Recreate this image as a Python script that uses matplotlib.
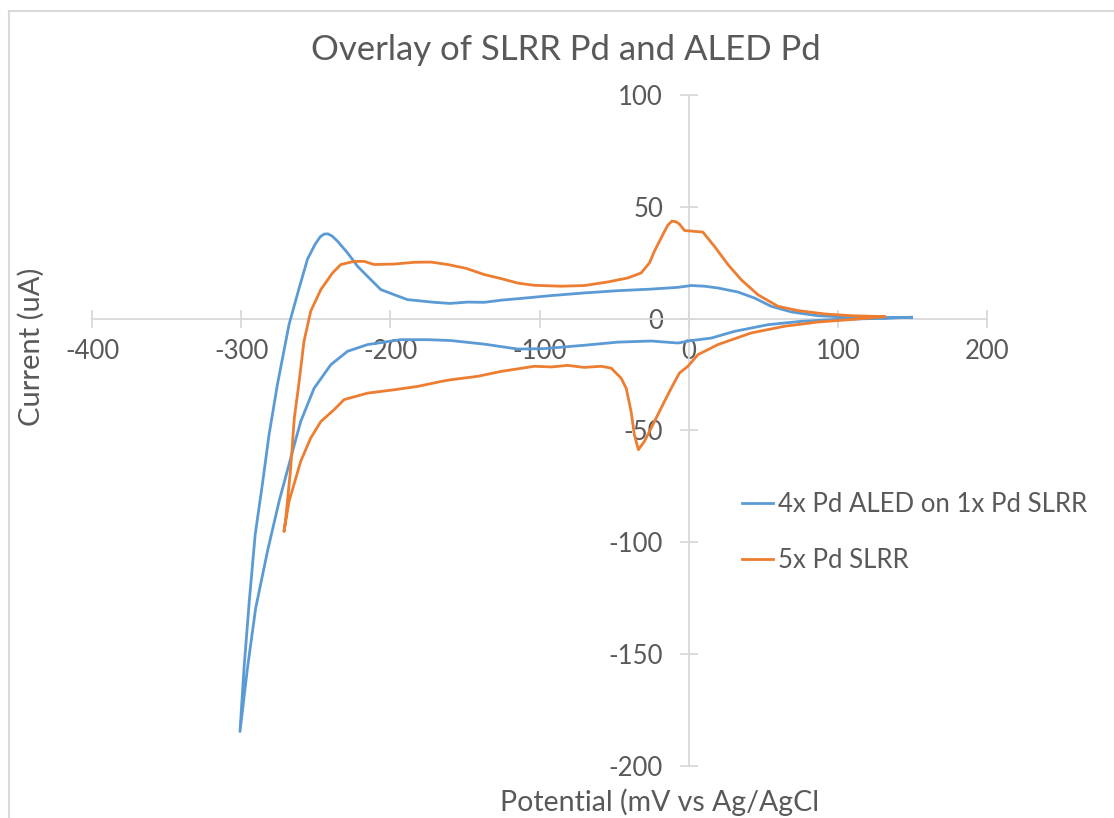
import matplotlib
matplotlib.use("Agg")
import matplotlib.pyplot as plt
from matplotlib.lines import Line2D

plt.rcParams['font.family'] = ['Lato', 'DejaVu Sans']
plt.rcParams['axes.unicode_minus'] = False

# 4x Pd ALED on 1x Pd SLRR: cathodic sweep from +150 down to -300, then back
aled_potential = [149.3, 120.3, 97.9, 75.5, 53.2, 30.7, 15.1, 1.7, -7.2, -25.2, -47.5, -69.9,
                  -96.8, -114.6, -137.0, -159.4, -175.0, -193.0, -215.3, -228.7, -239.9, -251.1,
                  -260.1, -265.6, -274.6, -282.4, -290.3, -295.8, -300.8,
                  -298.1, -294.6, -290.6, -285.8, -281.3, -275.7, -267.9, -262.3, -255.6, -250.5,
                  -247.0, -244.4, -241.8, -239.0, -235.4, -228.7, -222.0, -215.3, -206.4, -197.4,
                  -188.5, -170.6, -160.0, -148.2, -137.0, -125.0, -114.6, -92.3, -69.9, -47.5,
                  -25.2, -7.2, 1.7, 10.6, 19.6, 33.0, 44.2, 55.4, 68.8, 86.7, 109.1, 131.4, 149.3]
aled_current = [0.6, 0.0, -0.4, -1.2, -2.7, -5.7, -8.7, -9.8, -10.9, -10.0, -10.5, -11.9,
                -13.4, -13.6, -11.4, -9.8, -9.4, -9.4, -11.6, -14.6, -20.6, -31.1,
                -46.0, -59.4, -81.7, -104.1, -129.5, -156.3, -184.6,
                -156.3, -126.5, -96.5, -74.1, -51.8, -29.4, -2.6, 10.9, 26.5, 33.2,
                36.6, 37.8, 37.9, 36.9, 34.6, 29.4, 23.4, 18.9, 13.0, 10.7,
                8.5, 7.3, 6.8, 7.4, 7.3, 8.3, 8.9, 10.3, 11.5, 12.5,
                13.2, 14.0, 14.8, 14.5, 13.7, 11.9, 9.2, 5.5, 3.0, 1.3, 0.6, 0.3, 0.6]

# 5x Pd SLRR: cathodic sweep from +131 down to -271, then back
slrr_potential = [131.4, 109.1, 86.7, 64.3, 41.9, 19.6, 6.2, -0.5, -6.2, -11.7, -18.5, -25.2,
                  -29.7, -33.7, -36.4, -38.6, -41.9, -45.3, -52.0, -58.7, -70.0, -81.1, -92.0,
                  -103.5, -125.8, -141.5, -159.4, -166.1, -181.7, -197.4, -215.3, -231.0, -237.7,
                  -246.6, -253.4, -260.1, -267.9, -271.3,
                  -270.1, -266.8, -264.4, -261.7, -257.9, -253.4, -246.6, -238.8, -233.2, -224.3,
                  -217.6, -210.9, -197.4, -184.0, -172.8, -161.6, -149.3, -137.0, -125.8, -114.6,
                  -103.5, -85.6, -69.9, -54.2, -40.8, -31.9, -26.3, -23.0, -17.3, -14.0, -11.2,
                  -8.5, -6.2, -2.8, 9.5, 17.3, 26.3, 35.2, 46.4, 59.9, 73.3, 91.1, 109.1, 131.4]
slrr_current = [0.9, -0.4, -1.5, -3.4, -6.4, -11.6, -16.1, -21.3, -24.3, -31.1, -40.0, -49.0,
                -54.9, -58.6, -51.9, -41.5, -31.1, -26.6, -22.1, -21.3, -21.8, -20.9, -21.6,
                -21.3, -23.6, -25.8, -27.3, -28.1, -30.3, -31.8, -33.3, -36.2, -40.7,
                -46.0, -53.4, -63.8, -81.7, -95.2,
                -89.2, -66.8, -44.5, -31.1, -10.2, 3.3, 13.0, 20.4, 24.2, 25.6,
                25.6, 24.2, 24.4, 25.2, 25.3, 24.2, 22.5, 19.7, 17.9, 15.9,
                14.9, 14.5, 14.8, 16.4, 18.2, 20.4, 24.9, 30.1, 37.6, 41.8, 43.6,
                43.3, 42.3, 39.4, 38.7, 32.3, 24.2, 17.4, 10.7, 5.5, 3.6, 2.1, 1.3, 0.9]

x_ticks = [-400, -300, -200, -100, 0, 100, 200]
y_ticks = [-200, -150, -100, -50, 0, 50, 100]

text_color = '#595959'
axis_color = '#d9d9d9'

fig = plt.figure(figsize=(11.14, 8.18), dpi=100)
ax = fig.add_axes([0.0826, 0.0636, 0.8034, 0.8203])

ax.plot(aled_potential, aled_current, color='#5b9bd5', lw=2.0, label='4x Pd ALED on 1x Pd SLRR',
        zorder=3)
ax.plot(slrr_potential, slrr_current, color='#ed7d31', lw=2.0, label='5x Pd SLRR', zorder=3)

ax.set_xlim(-400, 200)
ax.set_ylim(-200, 100)
ax.set_xticks(x_ticks)
ax.set_yticks(y_ticks)

# axes cross at the origin like a spreadsheet chart
ax.spines['left'].set_position(('data', 0))
ax.spines['bottom'].set_position(('data', 0))
ax.spines['right'].set_visible(False)
ax.spines['top'].set_visible(False)
for side in ['left', 'bottom']:
    ax.spines[side].set_color(axis_color)
    ax.spines[side].set_linewidth(1.3)
    ax.spines[side].set_zorder(1)
ax.set_axisbelow(True)

ax.tick_params(axis='both', direction='inout', length=13, width=1.3, color=axis_color,
               labelcolor=text_color, labelsize=18.5)
ax.tick_params(axis='x', pad=8)
ax.tick_params(axis='y', pad=12)

fig.text(0.5076, 1 - 50 / 818, 'Overlay of SLRR Pd and ALED Pd', ha='center', va='center',
         fontsize=25, color=text_color)
fig.text(31.5 / 1114, 1 - 347 / 818, 'Current (uA)', rotation=90, ha='center', va='center',
         fontsize=21, color=text_color)
fig.text(659.5 / 1114, 1 - 802 / 818, 'Potential (mV vs Ag/AgCl', ha='center', va='center',
         fontsize=20.5, color=text_color)

ax.legend(loc='upper left', bbox_to_anchor=(742 / 1114, 1 - 492 / 818),
          bbox_transform=fig.transFigure, frameon=False, fontsize=18.5, labelcolor=text_color,
          handlelength=1.2, handletextpad=0.2, labelspacing=1.2, borderpad=0, borderaxespad=0)

# chart area border
fig.add_artist(Line2D([9 / 1114, 9 / 1114], [0, 1 - 11 / 818], transform=fig.transFigure,
                      color=axis_color, lw=1.5))
fig.add_artist(Line2D([9 / 1114, 1], [1 - 11 / 818, 1 - 11 / 818], transform=fig.transFigure,
                      color=axis_color, lw=1.5))

fig.savefig('out.png', dpi=100)
